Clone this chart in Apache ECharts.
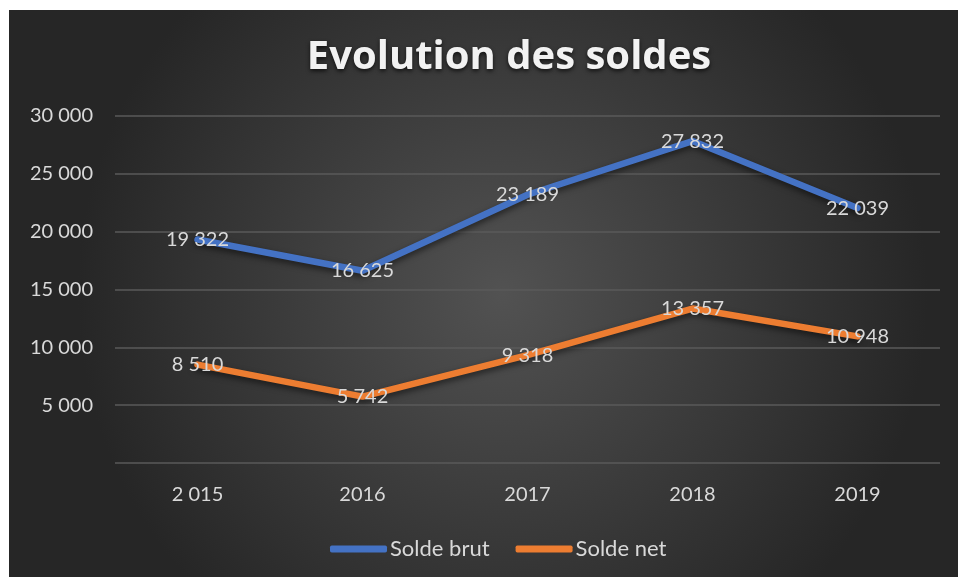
<!DOCTYPE html>
<html>
<head>
<meta charset="utf-8">
<script src="https://cdn.jsdelivr.net/npm/echarts@6/dist/echarts.min.js"></script>
<style>
  html, body { margin: 0; padding: 0; background: #fff; overflow: hidden; }
  #chart { position: absolute; left: 9px; top: 10px; width: 949px; height: 567px; }
</style>
</head>
<body>
<div id="chart"></div>
<script>
// données
const years = ['2 015', '2016', '2017', '2018', '2019'];
const soldeBrut = [19322, 16625, 23189, 27832, 22039];
const soldeNet = [8510, 5742, 9318, 13357, 10948];
const seriesColor = ['#4472c4', '#ed7d31'];

const fmt = (v) => String(v).replace(/\B(?=(\d{3})+(?!\d))/g, ' ');

const chart = echarts.init(document.getElementById('chart'));

function lineSeries(name, data, color) {
    return {
        name: name,
        type: 'line',
        data: data,
        symbol: 'circle',
        symbolSize: 1,
        showSymbol: true,
        color: color,
        itemStyle: {color: color},
        lineStyle: {
            width: 6.5,
            color: color,
            cap: 'round',
            shadowColor: 'rgba(0,0,0,0.55)',
            shadowBlur: 6,
            shadowOffsetY: 3
        },
        label: {
            show: true,
            position: 'inside',
            color: '#d9d9d9',
            fontSize: 20,
            fontFamily: 'Lato',
            formatter: (p) => fmt(p.value)
        },
        labelLayout: {hideOverlap: false}
    };
}

const option = {
    backgroundColor: {
        type: 'radial',
        x: 0.52, y: 0.5, r: 0.75,
        colorStops: [
            {offset: 0, color: '#525252'},
            {offset: 1, color: '#262626'}
        ]
    },
    title: {
        text: 'Evolution des soldes',
        left: 495,
        top: 23,
        textAlign: 'center',
        textStyle: {
            color: '#f2f2f2',
            fontFamily: 'Open Sans',
            fontWeight: 'bold',
            fontSize: 40,
            textShadowColor: 'rgba(0,0,0,0.7)',
            textShadowBlur: 4,
            textShadowOffsetY: 2
        }
    },
    legend: {
        top: 523,
        left: 316,
        itemWidth: 57,
        itemHeight: 7,
        itemGap: 26,
        icon: 'roundRect',
        textStyle: {color: '#d9d9d9', fontSize: 22, fontFamily: 'Lato', padding: [0, 0, 0, -2]},
        data: ['Solde brut', 'Solde net']
    },
    grid: {
        left: 106,
        right: 18,
        top: 106,
        bottom: 114
    },
    xAxis: {
        type: 'category',
        data: years,
        boundaryGap: true,
        axisLine: {show: false},
        axisTick: {show: false},
        axisLabel: {color: '#d9d9d9', fontSize: 20, fontFamily: 'Lato', margin: 22}
    },
    yAxis: {
        type: 'value',
        min: 0,
        max: 30000,
        interval: 5000,
        axisLine: {show: false},
        axisTick: {show: false},
        axisLabel: {
            color: '#d9d9d9',
            fontSize: 20,
            fontFamily: 'Lato',
            margin: 22,
            formatter: (v) => v === 0 ? '' : fmt(v)
        },
        splitLine: {lineStyle: {color: '#5a5a5a', width: 1.5}}
    },
    series: [
        lineSeries('Solde brut', soldeBrut, seriesColor[0]),
        lineSeries('Solde net', soldeNet, seriesColor[1])
    ]
};

chart.setOption(option);
</script>
</body>
</html>
